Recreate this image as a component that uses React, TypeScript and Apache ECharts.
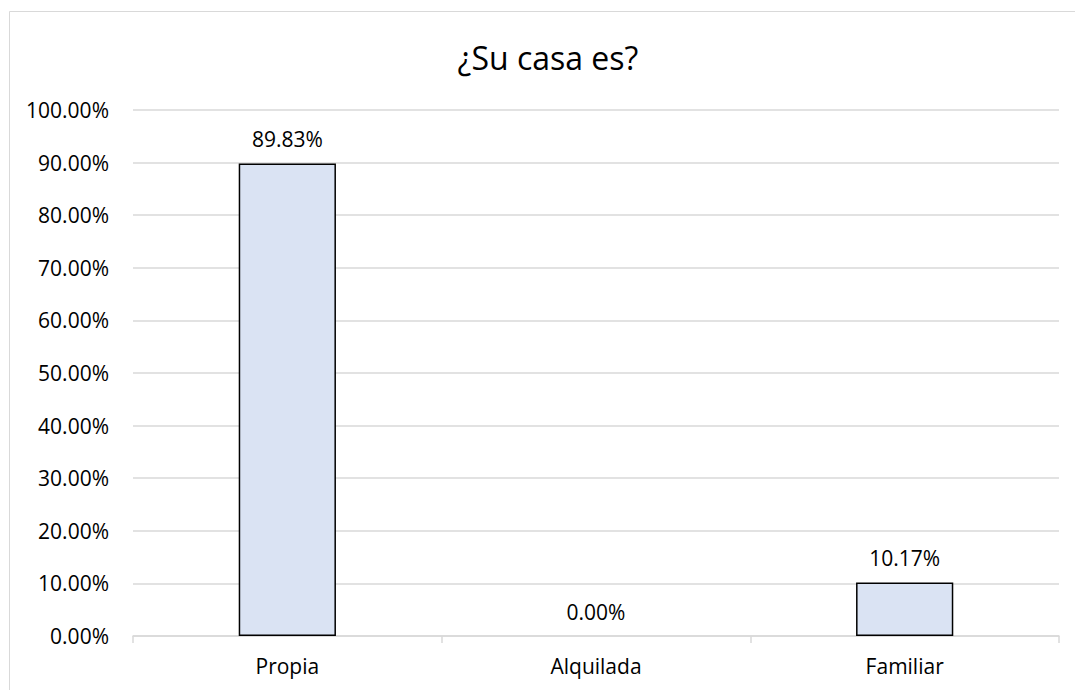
import React, { useEffect, useRef } from "react";
import * as echarts from "echarts";

const categories = ["Propia", "Alquilada", "Familiar"];
const values = [89.83, 0, 10.17];
const yTicks = [0, 10, 20, 30, 40, 50, 60, 70, 80, 90, 100];
const title = "¿Su casa es?";

const FONT = "'Open Sans', 'Noto Sans', sans-serif";

export default function App() {
  const ref = useRef<HTMLDivElement>(null);
  useEffect(() => {
    if (!ref.current) return;
    const chart = echarts.init(ref.current, undefined, { renderer: "svg" });
    chart.setOption({
      animation: false,
      backgroundColor: "#ffffff",
      title: {
        text: title,
        left: 543,
        textAlign: "center",
        top: 36,
        textStyle: { fontFamily: FONT, fontSize: 32, fontWeight: "normal", color: "#000000" },
      },
      graphic: [
        {
          type: "rect",
          shape: { x: 9.5, y: 11.5, width: 1100, height: 720 },
          style: { fill: "none", stroke: "#D9D9D9", lineWidth: 1 },
          silent: true,
        },
      ],
      grid: { left: 133, right: 16, top: 110, bottom: 54, containLabel: false },
      xAxis: {
        type: "category",
        data: categories,
        axisLine: { show: true, lineStyle: { color: "#D9D9D9", width: 1.5 } },
        axisTick: { show: true, alignWithLabel: false, length: 7, lineStyle: { color: "#D9D9D9", width: 1.5 } },
        axisLabel: { fontFamily: FONT, fontSize: 21, color: "#000000", margin: 19 },
      },
      yAxis: {
        type: "value",
        min: yTicks[0],
        max: yTicks[yTicks.length - 1],
        interval: 10,
        axisLine: { show: false },
        axisTick: { show: false },
        splitLine: { lineStyle: { color: "#D9D9D9", width: 1.5 } },
        axisLabel: {
          fontFamily: FONT,
          fontSize: 21,
          color: "#000000",
          margin: 24,
          formatter: (v: number) => v.toFixed(2) + "%",
        },
      },
      series: [
        {
          type: "bar",
          data: values.map((v) =>
            v === 0 ? { value: v, itemStyle: { borderWidth: 0 } } : { value: v }
          ),
          barWidth: "31.5%",
          itemStyle: { color: "#DAE3F3", borderColor: "#000000", borderWidth: 1.5 },
          label: {
            show: true,
            position: "top",
            distance: 14,
            fontFamily: FONT,
            fontSize: 21,
            color: "#000000",
            formatter: (p: any) => Number(p.value).toFixed(2) + "%",
          },
        },
      ],
    });
    return () => chart.dispose();
  }, []);
  return (
    <div
      ref={ref}
      style={{ position: "absolute", left: 0, top: 0, width: 1075, height: 690 }}
    />
  );
}
